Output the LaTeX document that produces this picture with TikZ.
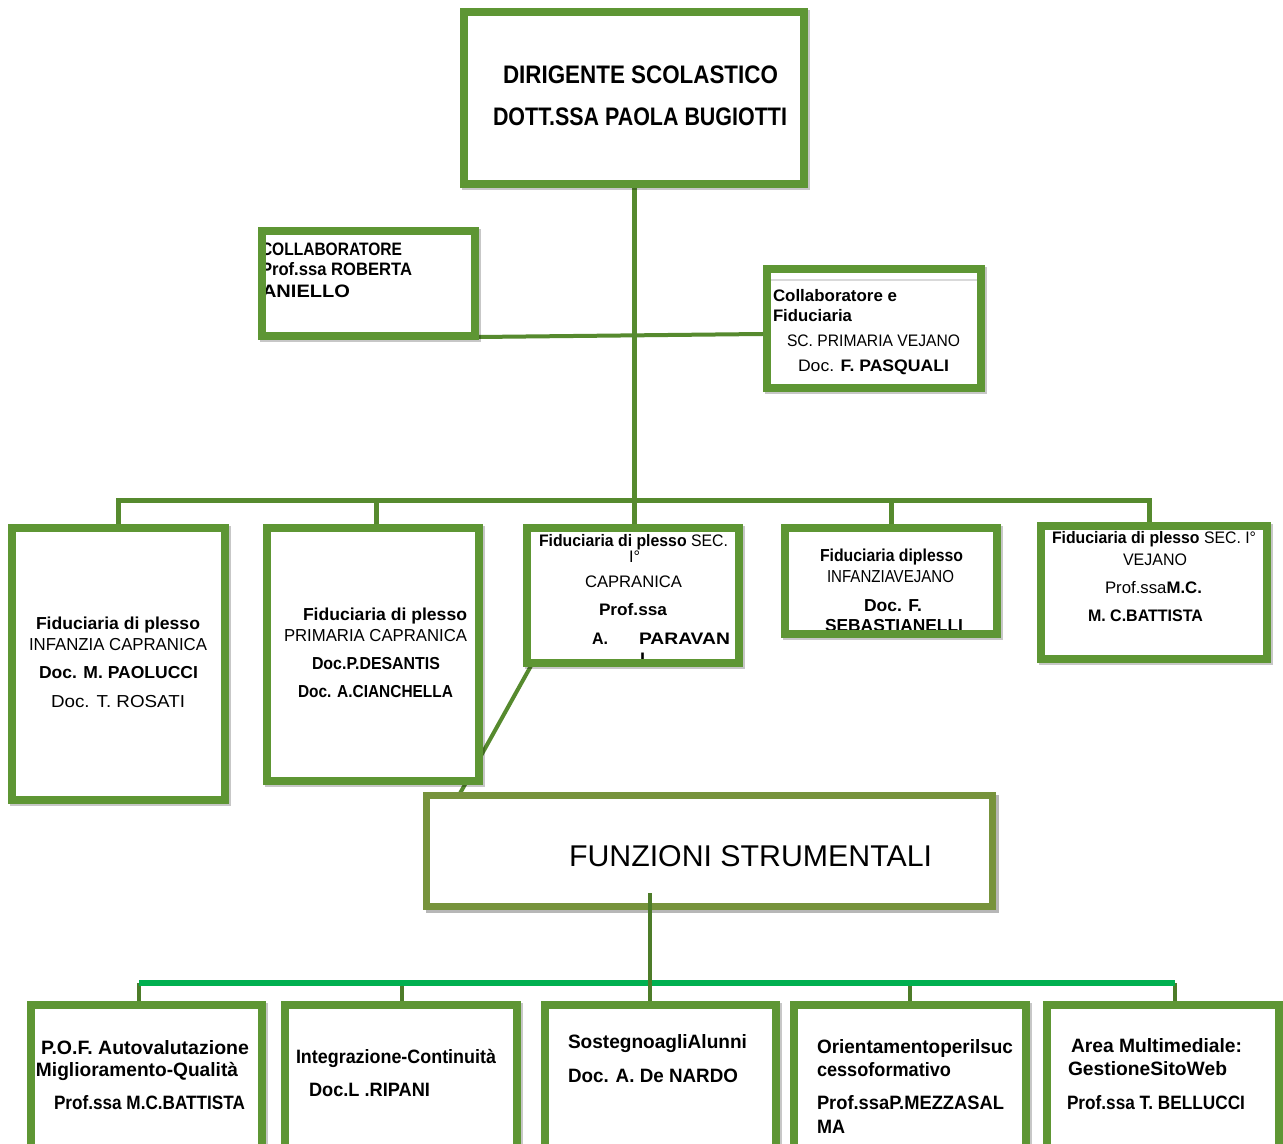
\documentclass[tikz,border=0pt]{standalone}
\usepackage{fontspec}
\setmainfont{Liberation Sans}
\usepackage{graphicx}
\usetikzlibrary{shadows,calc}
\pgfdeclarelayer{bg}
\pgfsetlayers{bg,main}
\newdimen\pxu \pxu=0.75pt
\definecolor{bordgreen}{HTML}{5E9634}
\definecolor{conngreen}{HTML}{568A2E}
\definecolor{olivebord}{HTML}{77933C}
\definecolor{busgreen}{HTML}{00B050}
\newcommand\szT{\fontsize{19pt}{22pt}\selectfont}
\newcommand\szC{\fontsize{12.5pt}{14pt}\selectfont}
\newcommand\szL{\fontsize{13.5pt}{15pt}\selectfont}
\newcommand\szF{\fontsize{13pt}{15pt}\selectfont}
\newcommand\szB{\fontsize{14.5pt}{16pt}\selectfont}
\newcommand\szS{\fontsize{22.5pt}{26pt}\selectfont}
\newcommand\mkbox[6][boxbg]{\node[#1, minimum width={(#5-#3)*0.75pt}, minimum height={(#6-#4)*0.75pt}] (#2) at ({(#3+#5)/2},{(#4+#6)/2}) {};}
\newcommand\mkbord[1]{\draw[bord] ([xshift=3pt,yshift=-3pt]#1.north west) rectangle ([xshift=-3pt,yshift=3pt]#1.south east);}
\newcommand\tl[6]{\node[txt, font=#5] (#1) at (#2,#3) {\resizebox{#4\pxu}{\height}{#6}};}
\begin{document}
\begin{tikzpicture}[x=0.75pt,y=-0.75pt,
  boxbg/.style={fill=white, draw=none, inner sep=0pt, outer sep=0pt,
    drop shadow={shadow xshift=1.8pt,shadow yshift=-1.8pt,opacity=0.22,fill=black}},
  fsbg/.style={fill=white, draw=none, inner sep=0pt, outer sep=0pt,
    drop shadow={shadow xshift=2.4pt,shadow yshift=-2.4pt,opacity=0.4,fill=black!70}},
  bord/.style={draw=bordgreen, line width=6pt, line join=miter},
  obord/.style={draw=olivebord, line width=5.25pt, line join=miter},
  conn/.style={draw=conngreen, line width=3.75pt, line join=miter},
  diag/.style={draw=conngreen, line width=3pt},
  dropline/.style={draw=conngreen!90!black, line width=3pt},
  busline/.style={draw=busgreen, line width=4.5pt},
  txt/.style={inner sep=0pt, outer sep=0pt, anchor=base west, text=black}]
\useasboundingbox (0,0) rectangle (1283,1144);
\clip (0,0) rectangle (1283,1144);

% ---------- box backgrounds ----------
\mkbox{top}{460}{8}{808}{188}
\mkbox{cl}{258}{227}{479}{340}
\mkbox{cr}{763}{265}{985}{392}
\mkbox{f1}{8}{524}{229}{804}
\mkbox{f2}{263}{524}{483}{785}
\mkbox{f3}{523}{524}{743}{667}
\mkbox{f4}{781}{524}{1001}{638}
\mkbox{f5}{1037}{522}{1271}{663}
\mkbox[fsbg]{fs}{423}{792}{996}{910}
\mkbox{b1}{27}{1001}{266}{1165}
\mkbox{b2}{281}{1001}{521}{1165}
\mkbox{b3}{541}{1001}{780}{1165}
\mkbox{b4}{790}{1001}{1030}{1165}
\mkbox{b5}{1043}{1001}{1283}{1165}

% ---------- junction coordinates ----------
\coordinate (j1) at (118,501);
\coordinate (j2) at (376,501);
\coordinate (j3) at (634,501);
\coordinate (j4) at (891,501);
\coordinate (j5) at (1149,501);
\coordinate (k1) at (139,983);
\coordinate (k2) at (402,983);
\coordinate (k3) at (650,983);
\coordinate (k4) at (910,983);
\coordinate (k5) at (1175,983);

% ---------- connectors (behind boxes) ----------
\begin{pgfonlayer}{bg}
\fill[white] (0,0) rectangle (1283,1144);
\draw[conn] (top.south) -- (j3);
\draw[conn] (j1 |- f1.north) -- (j1) -- (j5) -- (j5 |- f5.north);
\draw[conn] (j2) -- (j2 |- f2.north);
\draw[conn] (j3) -- (j3 |- f3.north);
\draw[conn] (j4) -- (j4 |- f4.north);
\draw[diag] (cl.east |- 0,337) -- (cr.west |- 0,334);
\draw[diag] ([xshift=6.75pt,yshift=2.25pt]f3.south west) -- ([xshift=26.25pt,yshift=-3.75pt]fs.north west);
\draw[dropline] (k1) -- (k1 |- b1.north);
\draw[dropline] (k2) -- (k2 |- b2.north);
\draw[dropline] (k4) -- (k4 |- b4.north);
\draw[dropline] (k5) -- (k5 |- b5.north);
\draw[busline] (k1) -- (k5);
\end{pgfonlayer}

% faint band in the right collaborator box
\draw[black!15, line width=1.5pt] ($(cr.north west)+(8,15)$) -- ($(cr.north east)+(-8,15)$);

% ---------- texts ----------
\tl{t1}{503}{84}{275}{\szT\bfseries}{DIRIGENTE SCOLASTICO}
\tl{t2}{493}{126}{294}{\szT\bfseries}{DOTT.SSA PAOLA BUGIOTTI}

\tl{c1}{261}{256}{141}{\szL\bfseries}{COLLABORATORE}
\tl{c2}{261}{276}{151}{\szL\bfseries}{Prof.ssa ROBERTA}
\tl{c3}{262}{298}{88}{\szL\bfseries}{ANIELLO}

\tl{r1}{773}{302}{124}{\szC\bfseries}{Collaboratore e}
\tl{r2}{773}{322}{79}{\szC\bfseries}{Fiduciaria}
\tl{r3}{787}{347}{173}{\szC}{SC. PRIMARIA VEJANO}
\tl{r4}{798}{372}{151}{\szC}{Doc. {\bfseries F. PASQUALI}}

\tl{a1}{36}{630}{164}{\szF\bfseries}{Fiduciaria di plesso}
\tl{a2}{29}{651}{178}{\szF}{INFANZIA CAPRANICA}
\tl{a3}{39}{679}{159}{\szF\bfseries}{Doc. M. PAOLUCCI}
\tl{a4}{51}{708}{134}{\szF}{Doc. T. ROSATI}

\tl{p1}{303}{621}{164}{\szF\bfseries}{Fiduciaria di plesso}
\tl{p2}{284}{642}{183}{\szF}{PRIMARIA CAPRANICA}
\tl{p3}{312}{670}{128}{\szF\bfseries}{Doc.P.DESANTIS}
\tl{p4}{298}{698}{155}{\szF\bfseries}{Doc. A.CIANCHELLA}

\tl{q1}{539}{547}{189}{\szC}{{\bfseries Fiduciaria di plesso} SEC.}
\tl{q2}{629}{563}{11}{\szC}{I°}
\tl{q3}{585}{588}{97}{\szC}{CAPRANICA}
\tl{q4}{599}{616}{68}{\szC\bfseries}{Prof.ssa}
\tl{q5}{592}{645}{16}{\szC\bfseries}{A.}
\tl{q6}{639}{645}{91}{\szC\bfseries}{PARAVAN}
\tl{q7}{640}{665}{5}{\szC\bfseries}{I}

\tl{s1}{820}{562}{143}{\szF\bfseries}{Fiduciaria diplesso}
\tl{s2}{827}{583}{127}{\szF}{INFANZIAVEJANO}
\tl{s3}{864}{612}{58}{\szF\bfseries}{Doc. F.}
\tl{s4}{825}{632}{138}{\szF\bfseries}{SEBASTIANELLI}

\tl{u1}{1052}{544}{204}{\szC}{{\bfseries Fiduciaria di plesso} SEC. I°}
\tl{u2}{1123}{566}{64}{\szC}{VEJANO}
\tl{u3}{1105}{594}{97}{\szC}{Prof.ssa{\bfseries M.C.}}
\tl{u4}{1088}{622}{115}{\szC\bfseries}{M. C.BATTISTA}

\tl{fst}{569}{867}{363}{\szS}{FUNZIONI STRUMENTALI}

\tl{v1}{41}{1054}{208}{\szB\bfseries}{P.O.F. Autovalutazione}
\tl{v2}{36}{1076}{202}{\szB\bfseries}{Miglioramento-Qualità}
\tl{v3}{54}{1109}{191}{\szB\bfseries}{Prof.ssa M.C.BATTISTA}
\tl{w1}{296}{1063}{200}{\szB\bfseries}{Integrazione-Continuità}
\tl{w2}{309}{1096}{121}{\szB\bfseries}{Doc.L .RIPANI}
\tl{x1}{568}{1048}{179}{\szB\bfseries}{SostegnoagliAlunni}
\tl{x2}{568}{1082}{170}{\szB\bfseries}{Doc. A. De NARDO}
\tl{y1}{817}{1053}{196}{\szB\bfseries}{Orientamentoperilsuc}
\tl{y2}{817}{1076}{134}{\szB\bfseries}{cessoformativo}
\tl{y3}{817}{1109}{187}{\szB\bfseries}{Prof.ssaP.MEZZASAL}
\tl{y4}{817}{1133}{28}{\szB\bfseries}{MA}
\tl{z1}{1071}{1052}{171}{\szB\bfseries}{Area Multimediale:}
\tl{z2}{1068}{1075}{159}{\szB\bfseries}{GestioneSitoWeb}
\tl{z3}{1067}{1109}{178}{\szB\bfseries}{Prof.ssa T. BELLUCCI}

% ---------- borders (over the text, clipping it like the original) ----------
\mkbord{top}
\mkbord{cl}
\mkbord{cr}
\mkbord{f1}
\mkbord{f2}
\mkbord{f3}
\mkbord{f4}
\mkbord{f5}
\mkbord{b1}
\mkbord{b2}
\mkbord{b3}
\mkbord{b4}
\mkbord{b5}
\draw[obord] ([xshift=2.625pt,yshift=-2.625pt]fs.north west) rectangle ([xshift=-2.625pt,yshift=2.625pt]fs.south east);

% connector from FUNZIONI STRUMENTALI down to the lower bus
\draw[dropline, line width=3.5pt] ($(fs.south -| k3)+(0,-17)$) -- (k3 |- b3.north);
\end{tikzpicture}
\end{document}
